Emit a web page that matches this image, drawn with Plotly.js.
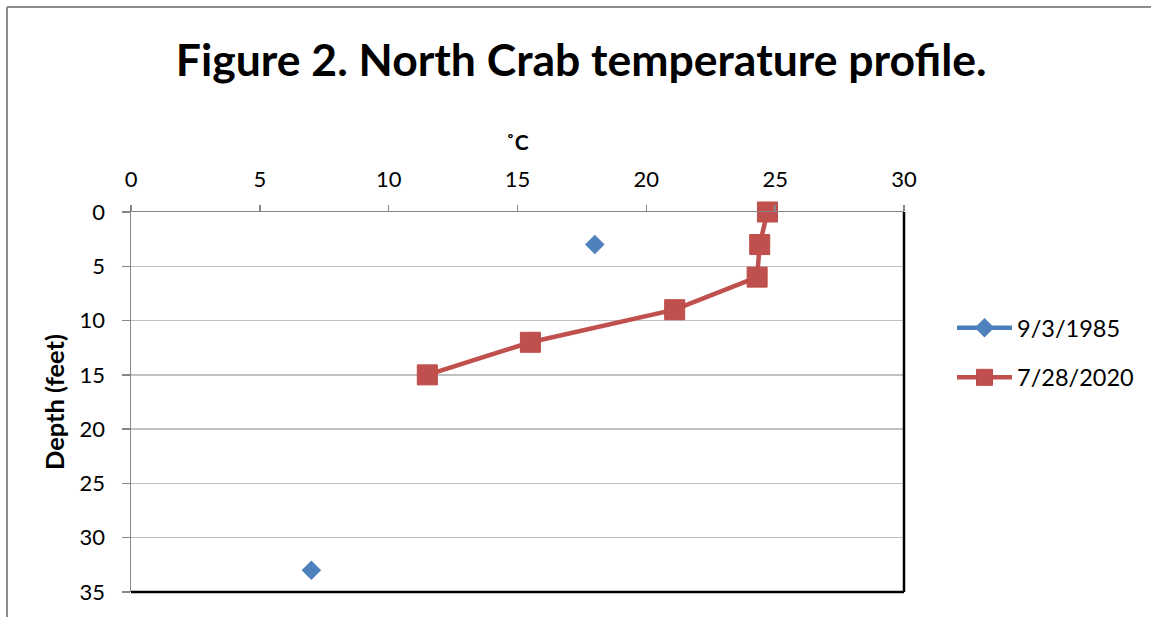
<!DOCTYPE html>
<html>
<head>
<meta charset="utf-8">
<script src="https://cdn.plot.ly/plotly-3.0.1.min.js"></script>
<style>
html,body{margin:0;padding:0;background:#fff;}
#chart{width:1151px;height:617px;}
</style>
</head>
<body>
<div id="chart"></div>
<script>
// Data
var temp1985 = [18, null, 7];
var depth1985 = [3, null, 33];
var temp2020 = [24.7, 24.4, 24.3, 21.1, 15.5, 11.5];
var depth2020 = [0, 3, 6, 9, 12, 15];
var seriesNames = ["9/3/1985", "7/28/2020"];
var xTicks = [0, 5, 10, 15, 20, 25, 30];
var yTicks = [0, 5, 10, 15, 20, 25, 30, 35];

var W = 1151, H = 617;
var M = {l: 131, r: 247, t: 212, b: 25};
var pw = W - M.l - M.r, ph = H - M.t - M.b;
function px2x(p){ return (p - M.l) / pw; }
function py2y(p){ return (H - M.b - p) / ph; }

var FONT = "Lato, 'Open Sans', sans-serif";

var traces = [
  {
    x: temp1985, y: depth1985, name: seriesNames[0],
    mode: "lines+markers", connectgaps: false, cliponaxis: false,
    line: {color: "#4a7ebb", width: 4.5},
    marker: {symbol: "diamond", size: 15, color: "#4f81bd"},
    legendgroup: "a"
  },
  {
    x: temp2020, y: depth2020, name: seriesNames[1],
    mode: "lines+markers", cliponaxis: false,
    line: {color: "#c0504d", width: 4.5},
    marker: {symbol: "square", size: 20, color: "#c0504d", line: {color: "#be4b48", width: 1}},
    legendgroup: "b"
  }
];

var layout = {
  width: W, height: H,
  margin: M,
  paper_bgcolor: "#fff", plot_bgcolor: "#fff",
  showlegend: true,
  title: {
    text: "<b>Figure 2. North Crab temperature profile.</b>",
    font: {family: FONT, size: 44.5, color: "#000"},
    x: 0.505, xanchor: "center", y: 1 - 60/H, yanchor: "middle"
  },
  xaxis: {
    side: "top", range: [0, 30], tickvals: xTicks, ticktext: xTicks.map(String),
    showgrid: false, zeroline: false,
    showline: true, linecolor: "#868686", linewidth: 1.5,
    ticks: "outside", ticklen: 6, tickcolor: "#868686", tickwidth: 1.5,
    ticklabelstandoff: 9,
    tickfont: {family: FONT, size: 22, color: "#000"},
    title: {text: "<b>˚C</b>", font: {family: FONT, size: 21, color: "#000"}, standoff: 8},
    fixedrange: true
  },
  yaxis: {
    range: [35, 0], tickvals: yTicks, ticktext: yTicks.map(String),
    showgrid: true, gridcolor: "#c0c0c0", gridwidth: 1.5,
    zeroline: false,
    showline: true, linecolor: "#868686", linewidth: 1.5,
    ticks: "outside", ticklen: 8, tickcolor: "#868686", tickwidth: 1.5,
    ticklabelstandoff: 12,
    tickfont: {family: FONT, size: 22, color: "#000"},
    title: {text: "<b>Depth (feet)</b>", font: {family: FONT, size: 25.5, color: "#000"}, standoff: 7},
    fixedrange: true
  },
  legend: {
    x: px2x(952), xanchor: "left", y: py2y(353), yanchor: "middle",
    font: {family: FONT, size: 23.5, color: "#000"},
    itemwidth: 55,
    traceorder: "grouped", tracegroupgap: 16,
    bgcolor: "rgba(0,0,0,0)", borderwidth: 0
  },
  shapes: [
    {type: "line", xref: "paper", yref: "paper", x0: 1, x1: 1, y0: 0, y1: 1,
     line: {color: "#000", width: 2.5}},
    {type: "line", xref: "paper", yref: "paper", x0: 0, x1: 1, y0: 0, y1: 0,
     line: {color: "#000", width: 2.5}},
    {type: "line", xref: "paper", yref: "paper", x0: px2x(7), x1: px2x(W + 5), y0: py2y(7), y1: py2y(7),
     line: {color: "#8c8c8c", width: 2}},
    {type: "line", xref: "paper", yref: "paper", x0: px2x(7), x1: px2x(7), y0: py2y(7), y1: py2y(H + 5),
     line: {color: "#8c8c8c", width: 2}}
  ]
};

Plotly.newPlot("chart", traces, layout, {displayModeBar: false, staticPlot: true});
</script>
</body>
</html>
